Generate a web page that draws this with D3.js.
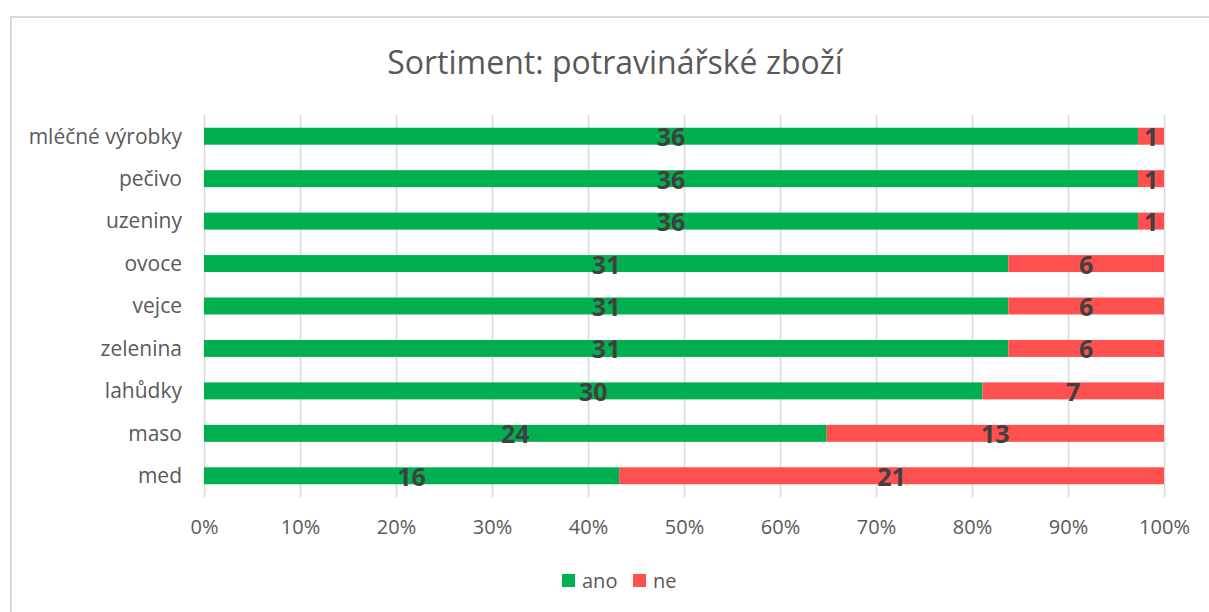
<!DOCTYPE html>
<html>
<head>
<meta charset="utf-8">
<script src="https://cdn.jsdelivr.net/npm/d3@7"></script>
<style>
  body { margin: 0; background: #fff; overflow: hidden; }
  text { font-family: 'Open Sans', 'Noto Sans', sans-serif; }
</style>
</head>
<body>
<div id="chart"></div>
<script>
// data
const categories = ['mléčné výrobky', 'pečivo', 'uzeniny', 'ovoce', 'vejce', 'zelenina', 'lahůdky', 'maso', 'med']
const ano = [36, 36, 36, 31, 31, 31, 30, 24, 16]
const ne = [1, 1, 1, 6, 6, 6, 7, 13, 21]
const seriesNames = ['ano', 'ne']
const colors = ['#00B050', '#FF5050']
const xTicks = [0, 0.1, 0.2, 0.3, 0.4, 0.5, 0.6, 0.7, 0.8, 0.9, 1]

const width = 1209
const height = 612
const margin = { left: 204, right: 45, top: 115, bottom: 115 }

const svg = d3.select('#chart')
  .append('svg')
  .attr('width', width)
  .attr('height', height)

svg.append('rect')
  .attr('x', 11)
  .attr('y', 17)
  .attr('width', 1220)
  .attr('height', 620)
  .attr('fill', '#fff')
  .attr('stroke', '#d9d9d9')
  .attr('stroke-width', 2)

svg.append('text')
  .attr('x', 615)
  .attr('y', 74)
  .attr('text-anchor', 'middle')
  .attr('fill', '#595959')
  .style('font-size', '32px')
  .text('Sortiment: potravinářské zboží')

const rows = categories.map((c, i) => {
  const total = ano[i] + ne[i]
  return { name: c, ano: ano[i] / total, ne: ne[i] / total, anoN: ano[i], neN: ne[i] }
})

const x = d3.scaleLinear().domain([0, 1]).range([margin.left, width - margin.right])
const y = d3.scaleBand()
  .domain(categories)
  .range([margin.top, height - margin.bottom])
  .paddingInner(0.6)
  .paddingOuter(0.3)

// gridlines
svg.append('g')
  .selectAll('line')
  .data(xTicks)
  .enter()
  .append('line')
  .attr('x1', d => x(d) + 0.5)
  .attr('x2', d => x(d) + 0.5)
  .attr('y1', margin.top)
  .attr('y2', height - margin.bottom)
  .attr('stroke', '#d9d9d9')
  .attr('stroke-width', 1.5)

const stack = d3.stack().keys(seriesNames)(rows)

const layers = svg.append('g')
  .selectAll('g')
  .data(stack)
  .enter()
  .append('g')
  .attr('fill', (d, i) => colors[i])

layers.selectAll('rect')
  .data(d => d)
  .enter()
  .append('rect')
  .attr('x', d => x(d[0]))
  .attr('width', d => x(d[1]) - x(d[0]))
  .attr('y', d => y(d.data.name))
  .attr('height', y.bandwidth())

// data labels
stack.forEach((layer, i) => {
  svg.append('g')
    .selectAll('text')
    .data(layer)
    .enter()
    .append('text')
    .attr('x', d => (x(d[0]) + x(d[1])) / 2)
    .attr('y', d => y(d.data.name) + y.bandwidth() / 2 + 10)
    .attr('text-anchor', 'middle')
    .attr('fill', '#404040')
    .style('font-size', '25px')
    .style('font-weight', 'bold')
    .text(d => i === 0 ? d.data.anoN : d.data.neN)
})

// category axis
const yAxis = svg.append('g')
  .attr('transform', 'translate(' + (margin.left - 22) + ',0)')
  .call(d3.axisLeft(y).tickSize(0).tickPadding(0))
yAxis.select('.domain').remove()
yAxis.selectAll('text')
  .attr('fill', '#595959')
  .attr('dy', '0.35em')
  .style('font-size', '21px')

// value axis
const xAxis = svg.append('g')
  .attr('transform', 'translate(0,' + (height - margin.bottom) + ')')
  .call(d3.axisBottom(x).tickValues(xTicks).tickFormat(d3.format('.0%')).tickSize(0).tickPadding(23))
xAxis.select('.domain').remove()
xAxis.selectAll('text')
  .attr('fill', '#595959')
  .style('font-size', '20px')

// legend
const legend = svg.append('g')
const legendX = [562, 633]
seriesNames.forEach((s, i) => {
  legend.append('rect')
    .attr('x', legendX[i])
    .attr('y', 574)
    .attr('width', 13)
    .attr('height', 13)
    .attr('fill', colors[i])
  legend.append('text')
    .attr('x', legendX[i] + 20)
    .attr('y', 588)
    .attr('fill', '#595959')
    .style('font-size', '20px')
    .text(s)
})
</script>
</body>
</html>
